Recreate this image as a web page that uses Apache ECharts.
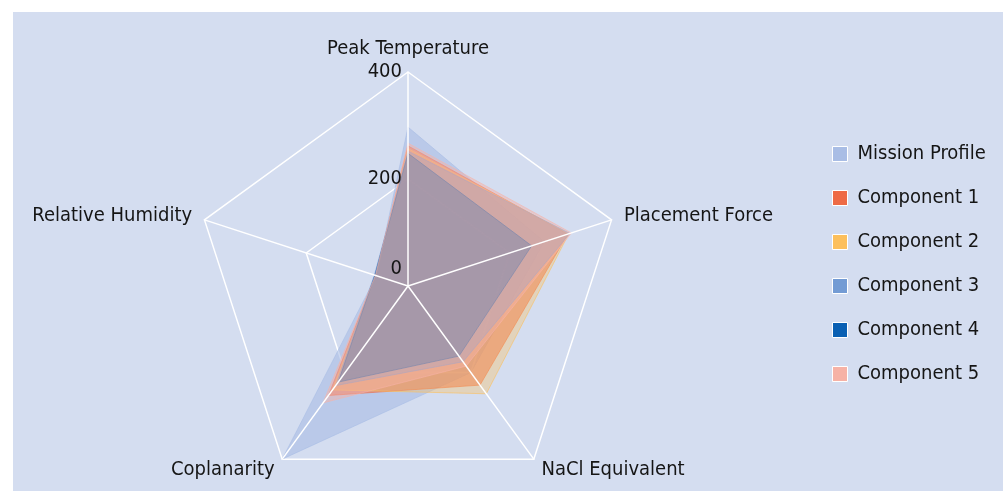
<!DOCTYPE html>
<html>
<head>
<meta charset="utf-8">
<script src="https://cdn.jsdelivr.net/npm/echarts@6/dist/echarts.min.js"></script>
<style>
  html, body { margin: 0; padding: 0; background: #ffffff; }
  #chart {
    position: absolute; left: 13px; top: 12px;
    width: 990px; height: 479px;
    background: #d4ddf0;
  }
</style>
</head>
<body>
<div id="chart"></div>
<script>
// Axes of the radar, listed counter-clockwise from the top
const indicatorNames = ['Peak Temperature', 'Relative Humidity', 'Coplanarity', 'NaCl Equivalent', 'Placement Force'];
const axisMax = 400;
const splitCount = 2;

const seriesNames = ['Mission Profile', 'Component 1', 'Component 2', 'Component 3', 'Component 4', 'Component 5'];
const seriesColors = ['#a9bde5', '#ee6a45', '#fcbf5c', '#739bd4', '#0a60b3', '#f6b2a6'];
const fillOpacity = [0.6, 0.55, 0.35, 0.45, 0.45, 0.45];

// values per axis, same order as indicatorNames
const missionProfile = [297, 62, 400, 200, 268];
const component1 = [262, 64, 253, 229, 314];
const component2 = [257, 63, 240, 249, 316];
const component3 = [252, 66, 230, 175, 318];
const component4 = [248, 65, 222, 162, 243];
const component5 = [267, 64, 270, 185, 321];
const seriesValues = [missionProfile, component1, component2, component3, component4, component5];

const FONT = '"Liberation Sans Narrow", "DejaVu Sans Condensed", "DejaVu Sans", sans-serif';
const TEXT = '#151515';
const CENTER = [395, 274];
const RADIUS = 214;

const chart = echarts.init(document.getElementById('chart'), null, { renderer: 'canvas' });

chart.setOption({
  backgroundColor: 'transparent',
  textStyle: { fontFamily: FONT },
  legend: {
    orient: 'vertical',
    left: 814,
    top: 127,
    itemWidth: 15,
    itemHeight: 15,
    itemGap: 24,
    icon: 'rect',
    itemStyle: { borderColor: '#ffffff', borderWidth: 1 },
    textStyle: { fontFamily: FONT, fontSize: 20, color: TEXT, padding: [0, 0, 0, 5] },
    data: seriesNames
  },
  radar: [
    {
      // grid rings and axis names, under the filled areas
      center: CENTER,
      radius: RADIUS,
      startAngle: 90,
      splitNumber: splitCount,
      shape: 'polygon',
      z: 0,
      indicator: indicatorNames.map(n => ({ name: n, max: axisMax, min: 0 })),
      axisName: { color: TEXT, fontSize: 20, fontFamily: FONT },
      nameGap: 13,
      splitLine: { lineStyle: { color: '#ffffff', width: 1.5 } },
      splitArea: { show: false },
      axisLine: { show: false },
      axisTick: { show: false },
      axisLabel: { show: false }
    },
    {
      // spokes and tick labels, drawn over the filled areas
      center: CENTER,
      radius: RADIUS,
      startAngle: 90,
      splitNumber: splitCount,
      shape: 'polygon',
      z: 5,
      indicator: indicatorNames.map((n, i) => ({
        name: n, max: axisMax, min: 0,
        axisLabel: { show: i === 0 }
      })),
      axisName: { show: false },
      splitLine: { show: false },
      splitArea: { show: false },
      axisLine: { show: true, lineStyle: { color: '#ffffff', width: 1.5 } },
      axisTick: { show: false },
      axisLabel: {
        show: false, color: TEXT, fontSize: 20, fontFamily: FONT, margin: 6,
        // the zero label sits a little above the centre point
        formatter: v => (Number(v) === 0 ? '{zero|0}' : String(v)),
        rich: { zero: { fontSize: 20, fontFamily: FONT, color: TEXT, padding: [0, 0, 34, 0] } }
      }
    }
  ],
  series: [{
    type: 'radar',
    radarIndex: 0,
    symbol: 'none',
    z: 2,
    data: seriesNames.map((name, i) => ({
      name: name,
      value: seriesValues[i],
      itemStyle: { color: seriesColors[i] },
      lineStyle: { color: seriesColors[i], width: 1, opacity: 0.6 },
      areaStyle: { color: seriesColors[i], opacity: fillOpacity[i] }
    }))
  }]
});
</script>
</body>
</html>
